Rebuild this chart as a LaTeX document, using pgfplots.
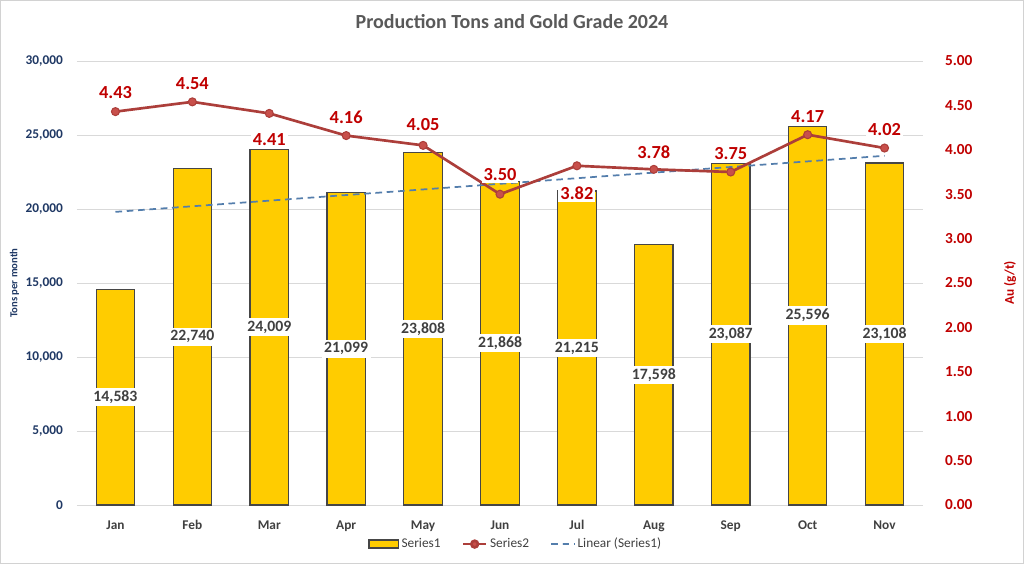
\documentclass[border=0pt]{standalone}
\usepackage{pgfplots}
\pgfplotsset{compat=1.18}
\usepackage{pgfplotstable}
\usepackage{fontspec}
\setmainfont{Carlito}

\definecolor{navy}{RGB}{31,56,100}
\definecolor{dred}{RGB}{192,0,0}
\definecolor{linered}{RGB}{172,62,58}
\definecolor{markred}{RGB}{200,80,75}
\definecolor{gold}{RGB}{255,204,0}
\definecolor{baredge}{RGB}{70,70,70}
\definecolor{trend}{RGB}{84,126,172}
\definecolor{gridc}{RGB}{217,217,217}
\definecolor{titlec}{RGB}{89,89,89}
\definecolor{labc}{RGB}{64,64,64}

\pgfplotsset{barlegend/.style={legend image code/.code={\draw[##1] (0pt,-3pt) rectangle (22pt,3pt);}}}

\pgfplotstableread{
x tons half grade gy
0 14583 7291.5 4.43 4.64
1 22740 11370 4.54 4.75
2 24009 12004.5 4.41 4.12
3 21099 10549.5 4.16 4.37
4 23808 11904 4.05 4.28
5 21868 10934 3.50 3.72
6 21215 10607.5 3.82 3.51
7 17598 8799 3.78 3.97
8 23087 11543.5 3.75 3.96
9 25596 12798 4.17 4.37
10 23108 11554 4.02 4.23
}\data

\begin{document}
\begin{tikzpicture}
\useasboundingbox (0,0) rectangle (768pt,423pt);
\draw[gray!35, line width=0.6pt] (0.3pt,0.3pt) rectangle (767.7pt,422.7pt);
\node[font=\bfseries\fontsize{15}{18}\selectfont, text=titlec] at (384pt,406.5pt) {Production Tons and Gold Grade 2024};

\begin{axis}[
  at={(57.75pt,44.25pt)}, anchor=south west,
  scale only axis, width=634.5pt, height=333pt,
  xmin=-0.5, xmax=10.5, ymin=0, ymax=30000,
  axis line style={draw=none},
  major tick length=0pt,
  ymajorgrids, grid style={gridc, line width=0.7pt},
  ytick={0,5000,...,30000},
  scaled y ticks=false,
  xtick={0,...,10},
  xticklabels={Jan,Feb,Mar,Apr,May,Jun,Jul,Aug,Sep,Oct,Nov},
  xticklabel style={font=\bfseries\fontsize{10}{12}\selectfont, text=labc, yshift=-8pt},
  yticklabel style={font=\bfseries\fontsize{10}{12}\selectfont, text=navy, xshift=-7pt},
  /pgf/number format/.cd, fixed, 1000 sep={,}, assume math mode=true,
  /pgfplots/.cd,
  ylabel={Tons per month},
  ylabel style={at={(axis description cs:-0.074,0.5)}, anchor=center, font=\bfseries\fontsize{8}{10}\selectfont, text=navy},
  legend columns=3,
  legend style={at={(axis description cs:0.519,-0.088)}, anchor=center, draw=none, fill=none,
    font=\fontsize{10}{12}\selectfont, text=labc,
    /tikz/every even column/.append style={column sep=14pt}},
]
\addplot[ybar, bar width=0.5, fill=gold, draw=baredge, line width=0.9pt, barlegend]
  table[x=x, y=tons] {\data};
\addlegendentry{Series1}
\addlegendimage{linered, line width=2pt, mark=*, mark size=2.5pt, mark options={fill=markred, draw=linered}}
\addlegendentry{Series2}
\addplot[trend, line width=1.3pt, dash pattern=on 5pt off 3.5pt] coordinates {(0,19806) (10,23596)};
\addlegendentry{Linear (Series1)}
\addplot[draw=none, mark=none, forget plot, nodes near coords, point meta=explicit,
  every node near coord/.style={anchor=center, fill=white, inner sep=2pt, text=labc,
    font=\bfseries\fontsize{11.8}{14}\selectfont,
    /pgf/number format/.cd, fixed, 1000 sep={,}, assume math mode=true}]
  table[x=x, y=half, meta=tons] {\data};
\end{axis}

\begin{axis}[
  at={(57.75pt,44.25pt)}, anchor=south west,
  scale only axis, width=634.5pt, height=333pt,
  xmin=-0.5, xmax=10.5, ymin=0, ymax=5,
  axis x line=none,
  axis y line*=right,
  axis line style={draw=none},
  major tick length=0pt,
  ytick={0,0.5,...,5},
  yticklabel style={font=\bfseries\fontsize{11.5}{14}\selectfont, text=dred, xshift=13pt},
  /pgf/number format/.cd, fixed, fixed zerofill, precision=2, assume math mode=true,
  /pgfplots/.cd,
  ylabel={Au (g/t)},
  ylabel style={at={(axis description cs:1.103,0.5)}, anchor=center, rotate=0, font=\bfseries\fontsize{10}{12}\selectfont, text=dred},
]
\addplot[linered, line width=2pt, mark=*, mark size=3pt, mark options={fill=markred, draw=linered, line width=0.8pt}]
  table[x=x, y=grade] {\data};
\addplot[draw=none, mark=none, nodes near coords, point meta=explicit,
  every node near coord/.style={anchor=center, fill=white, inner sep=1.5pt, text=dred,
    font=\bfseries\fontsize{13.8}{16}\selectfont,
    /pgf/number format/.cd, fixed, fixed zerofill, precision=2, assume math mode=true}]
  table[x=x, y=gy, meta=grade] {\data};
\end{axis}
\end{tikzpicture}
\end{document}
